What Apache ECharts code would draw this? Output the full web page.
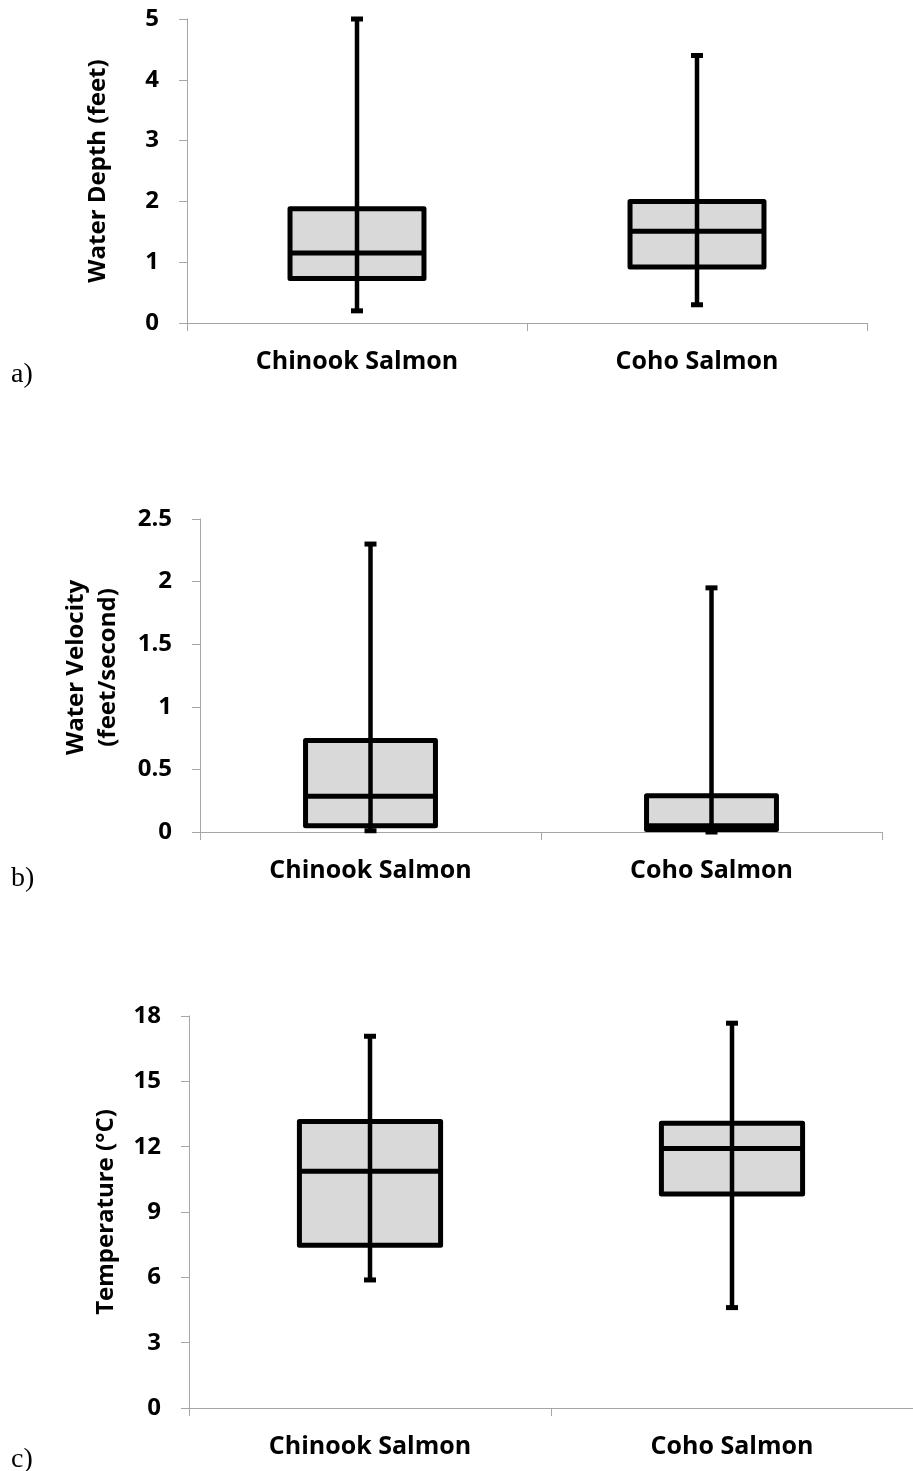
<!DOCTYPE html>
<html>
<head>
<meta charset="utf-8">
<script src="https://cdn.jsdelivr.net/npm/echarts@6/dist/echarts.min.js"></script>
<style>
html,body{margin:0;padding:0;background:#fff;}
#chart{width:913px;height:1471px;}
</style>
</head>
<body>
<div id="chart"></div>
<script>
// ---- data ----
const categories = ['Chinook Salmon', 'Coho Salmon'];
// [min, Q1, median, Q3, max]
const depthChinook = [0.2, 0.73, 1.15, 1.88, 5.0];
const depthCoho = [0.3, 0.92, 1.51, 2.0, 4.4];
const velocityChinook = [0.01, 0.05, 0.285, 0.73, 2.3];
const velocityCoho = [0.0, 0.02, 0.05, 0.29, 1.95];
const tempChinook = [5.88, 7.47, 10.87, 13.16, 17.07];
const tempCoho = [4.61, 9.83, 11.92, 13.07, 17.67];
const panelLetters = ['a)', 'b)', 'c)'];
const yTitles = ['Water Depth (feet)', 'Water Velocity\n(feet/second)', 'Temperature (°C)'];

const FONT = 'Open Sans';
const AXIS_GRAY = '#a6a6a6';

function rows(a, b) {
  return [[0].concat(a), [1].concat(b)];
}

function makeRender(frac) {
  return function (params, api) {
    const x = api.value(0);
    const pMin = api.coord([x, api.value(1)]);
    const pQ1 = api.coord([x, api.value(2)]);
    const pMed = api.coord([x, api.value(3)]);
    const pQ3 = api.coord([x, api.value(4)]);
    const pMax = api.coord([x, api.value(5)]);
    const band = api.size([1, 0])[0];
    const hw = band * frac / 2;
    const cx = pMed[0];
    const capHw = 6;
    return {
      type: 'group',
      children: [
        { type: 'rect', shape: { x: cx - hw, y: pQ3[1], width: 2 * hw, height: pQ1[1] - pQ3[1] },
          style: { fill: '#d9d9d9', stroke: '#000', lineWidth: 5, lineJoin: 'round' } },
        { type: 'line', shape: { x1: cx - hw, y1: pMed[1], x2: cx + hw, y2: pMed[1] },
          style: { stroke: '#000', lineWidth: 5 } },
        { type: 'line', shape: { x1: cx, y1: pMin[1], x2: cx, y2: pMax[1] },
          style: { stroke: '#000', lineWidth: 4.5 } },
        { type: 'line', shape: { x1: cx - capHw, y1: pMax[1], x2: cx + capHw, y2: pMax[1] },
          style: { stroke: '#000', lineWidth: 5 } },
        { type: 'line', shape: { x1: cx - capHw, y1: pMin[1], x2: cx + capHw, y2: pMin[1] },
          style: { stroke: '#000', lineWidth: 5 } }
      ]
    };
  };
}

const grids = [
  { left: 187, top: 19, width: 680, height: 304 },
  { left: 200, top: 519, width: 682, height: 313 },
  { left: 189, top: 1016, width: 732, height: 392 }
];
const yRanges = [
  { min: 0, max: 5, interval: 1 },
  { min: 0, max: 2.5, interval: 0.5 },
  { min: 0, max: 18, interval: 3 }
];
const nameGaps = [73, 76, 66];
const namePads = [[0, 0, 0, 0], [0, 0, 0, 16], [0, 0, 0, 0]];

const xAxes = grids.map((g, i) => ({
  type: 'category',
  gridIndex: i,
  data: categories,
  boundaryGap: true,
  axisLine: { show: true, lineStyle: { color: AXIS_GRAY, width: 1 } },
  axisTick: { show: true, length: 8, lineStyle: { color: AXIS_GRAY } },
  axisLabel: { color: '#000', fontFamily: FONT, fontWeight: 'bold', fontSize: 25, margin: 26 },
  splitLine: { show: false }
}));

const yAxes = yRanges.map((r, i) => ({
  type: 'value',
  gridIndex: i,
  min: r.min, max: r.max, interval: r.interval,
  name: yTitles[i],
  nameLocation: 'middle',
  nameGap: nameGaps[i],
  nameTextStyle: { color: '#000', fontFamily: FONT, fontWeight: 'bold', fontSize: 24, lineHeight: 32, padding: namePads[i] },
  axisLine: { show: true, lineStyle: { color: AXIS_GRAY, width: 1 } },
  axisTick: { show: true, length: 8, lineStyle: { color: AXIS_GRAY } },
  axisLabel: { color: '#000', fontFamily: FONT, fontWeight: 'bold', fontSize: 24, margin: 28 },
  splitLine: { show: false }
}));

const seriesData = [
  rows(depthChinook, depthCoho),
  rows(velocityChinook, velocityCoho),
  rows(tempChinook, tempCoho)
];
const fracs = [0.394, 0.381, 0.39];

const series = seriesData.map((d, i) => ({
  type: 'custom',
  xAxisIndex: i,
  yAxisIndex: i,
  renderItem: makeRender(fracs[i]),
  encode: { x: 0, y: [1, 2, 3, 4, 5] },
  data: d,
  clip: false,
  silent: true
}));

const letterY = [376, 880, 1461];
const graphic = panelLetters.map((t, i) => ({
  type: 'text',
  left: 11,
  top: letterY[i] - 15,
  style: { text: t, fill: '#000', font: '28px "Liberation Serif"' }
}));

const chart = echarts.init(document.getElementById('chart'), null, { renderer: 'canvas' });
chart.setOption({
  animation: false,
  backgroundColor: '#fff',
  grid: grids,
  xAxis: xAxes,
  yAxis: yAxes,
  series: series,
  graphic: graphic
});
</script>
</body>
</html>
